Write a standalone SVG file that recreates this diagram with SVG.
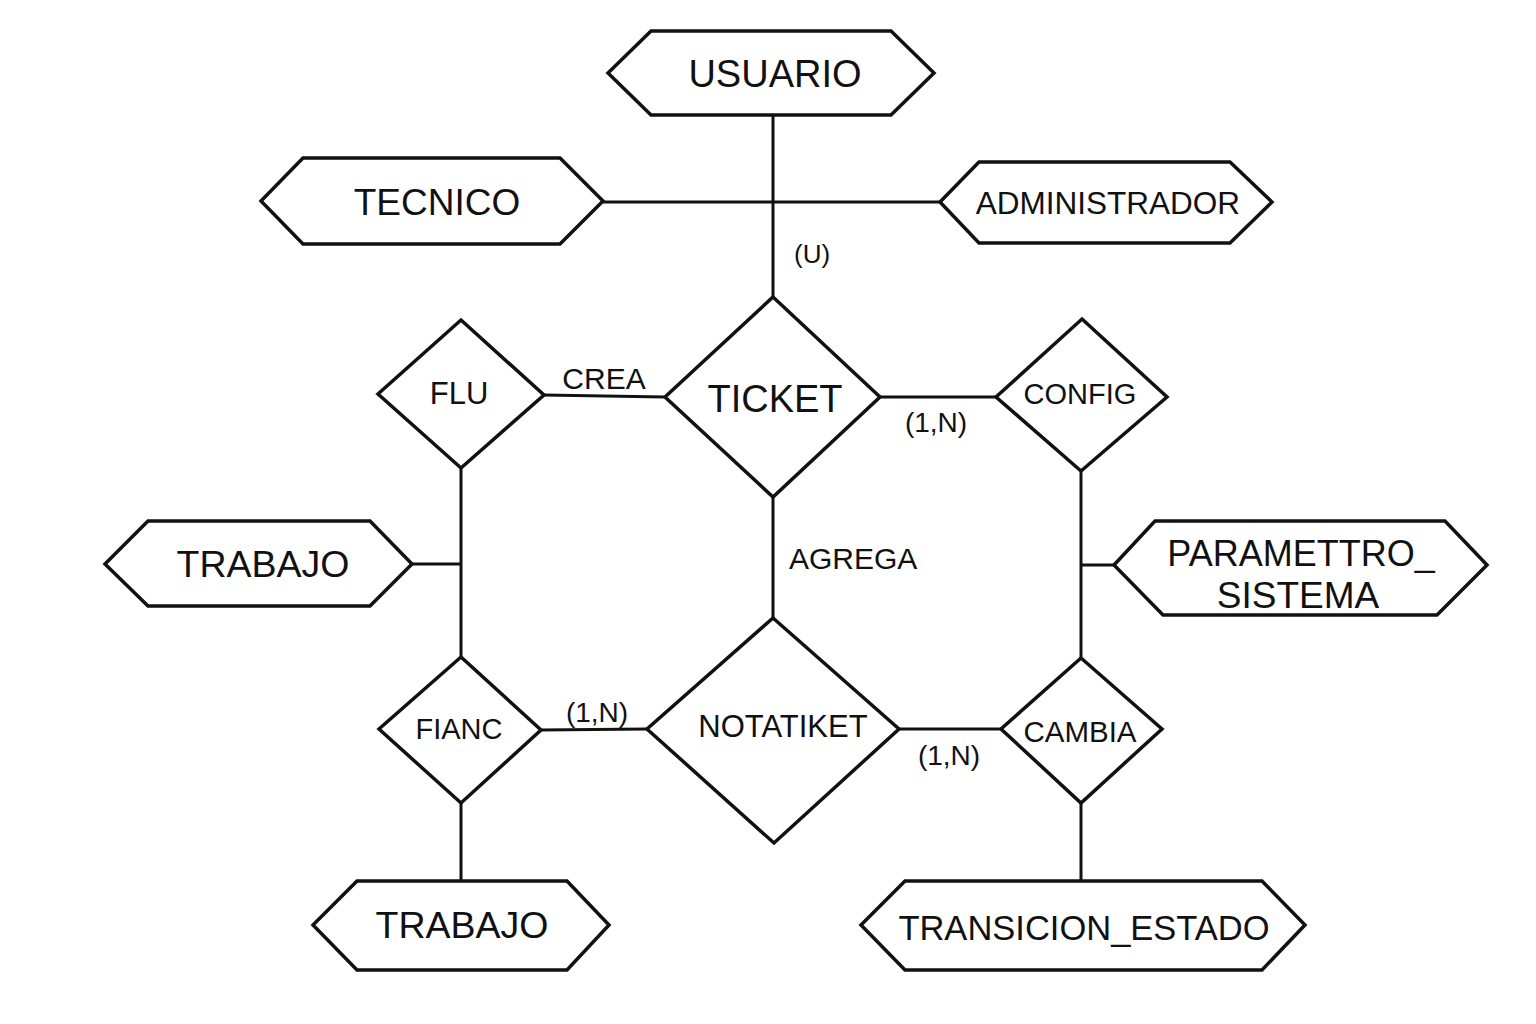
<svg xmlns="http://www.w3.org/2000/svg" width="1536" height="1024" viewBox="0 0 1536 1024">
<style>
.shape{fill:#ffffff;stroke:#111111;stroke-width:3.5;stroke-linejoin:miter}
.line{fill:none;stroke:#111111;stroke-width:3}
text{font-family:"Liberation Sans",Arial,sans-serif;fill:#111111;text-anchor:middle}
.lbl{text-anchor:start}
</style>
<rect x="0" y="0" width="1536" height="1024" fill="#ffffff"/>
<g id="connectors">
<line class="line" x1="773" y1="115" x2="773" y2="297"/>
<line class="line" x1="603" y1="202" x2="940" y2="202"/>
<line class="line" x1="544" y1="395" x2="665" y2="397"/>
<line class="line" x1="880" y1="397" x2="996" y2="397"/>
<line class="line" x1="461" y1="468" x2="461" y2="658"/>
<line class="line" x1="412" y1="564" x2="461" y2="564"/>
<line class="line" x1="773" y1="496" x2="773" y2="618"/>
<line class="line" x1="1081" y1="471" x2="1081" y2="658"/>
<line class="line" x1="1081" y1="565" x2="1114" y2="565"/>
<line class="line" x1="541" y1="730" x2="647" y2="729"/>
<line class="line" x1="899" y1="729" x2="1001" y2="729"/>
<line class="line" x1="461" y1="803" x2="461" y2="881"/>
<line class="line" x1="1081" y1="803" x2="1081" y2="881"/>
<text class="lbl" x="794" y="263" font-size="26">(U)</text>
<text x="604" y="389" font-size="30">CREA</text>
<text x="936" y="432" font-size="28">(1,N)</text>
<text class="lbl" x="789" y="569" font-size="30">AGREGA</text>
<text x="597" y="722" font-size="28">(1,N)</text>
<text x="949" y="765" font-size="28">(1,N)</text>
</g>
<g id="usuario">
<polygon class="shape" points="608,73 651,31 891,31 934,73 891,115 651,115"/>
<text x="775" y="87" font-size="38">USUARIO</text>
</g>
<g id="tecnico">
<polygon class="shape" points="261,201 303,158 560,158 603,201 560,244 303,244"/>
<text x="437" y="215" font-size="37">TECNICO</text>
</g>
<g id="administrador">
<polygon class="shape" points="940,202 979,162 1230,162 1272,202 1230,243 979,243"/>
<text x="1108" y="214" font-size="31.5">ADMINISTRADOR</text>
</g>
<g id="ticket">
<polygon class="shape" points="773,297 880,397 773,497 665,397"/>
<text x="775" y="412" font-size="38">TICKET</text>
</g>
<g id="flu">
<polygon class="shape" points="461,320 544,395 461,468 378,394"/>
<text x="459" y="404" font-size="31">FLU</text>
</g>
<g id="config">
<polygon class="shape" points="1082,319 1167,397 1081,471 996,397"/>
<text x="1080" y="404" font-size="29">CONFIG</text>
</g>
<g id="trabajo1">
<polygon class="shape" points="105,564 148,521 370,521 412,564 370,606 148,606"/>
<text x="263" y="577" font-size="37.5">TRABAJO</text>
</g>
<g id="parametro_sistema">
<polygon class="shape" points="1114,565 1155,521 1445,521 1487,565 1437,615 1163,615"/>
<text x="1301" y="566" font-size="36">PARAMETTRO_</text>
<text x="1298" y="608" font-size="37">SISTEMA</text>
</g>
<g id="fianc">
<polygon class="shape" points="461,657 541,730 461,803 379,729"/>
<text x="459" y="739" font-size="29">FIANC</text>
</g>
<g id="notatiket">
<polygon class="shape" points="773,618 899,729 774,843 647,729"/>
<text x="783" y="737" font-size="31">NOTATIKET</text>
</g>
<g id="cambia">
<polygon class="shape" points="1081,658 1162,729 1081,803 1001,729"/>
<text x="1080" y="742" font-size="29.5">CAMBIA</text>
</g>
<g id="trabajo2">
<polygon class="shape" points="313,925 357,881 567,881 609,925 567,970 357,970"/>
<text x="462" y="938" font-size="37.5">TRABAJO</text>
</g>
<g id="transicion_estado">
<polygon class="shape" points="861,925 905,881 1262,881 1305,925 1262,970 905,970"/>
<text x="1084" y="940" font-size="34.5">TRANSICION_ESTADO</text>
</g>
</svg>
